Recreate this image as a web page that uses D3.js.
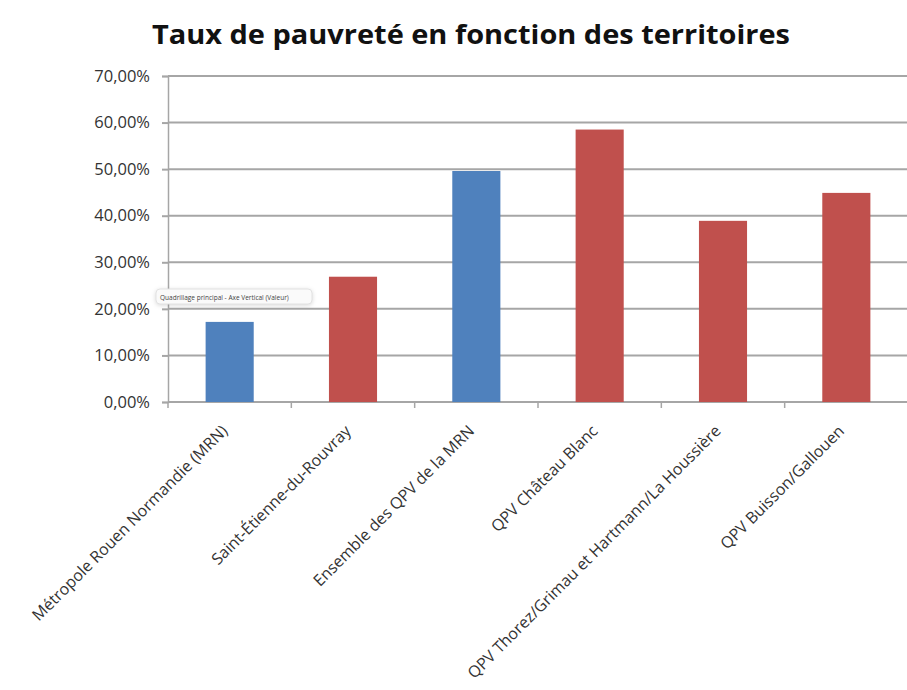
<!DOCTYPE html>
<html><head><meta charset="utf-8">
<script src="https://cdn.jsdelivr.net/npm/d3@7"></script>
<style>body{margin:0;background:#fff;} svg{display:block;}</style>
</head><body>
<svg id="c" width="907" height="690"></svg>
<script>
const categories = ["Métropole Rouen Normandie (MRN)", "Saint-Étienne-du-Rouvray", "Ensemble des QPV de la MRN", "QPV Château Blanc", "QPV Thorez/Grimau et Hartmann/La Houssière", "QPV Buisson/Gallouen"];
const values = [0.172, 0.269, 0.496, 0.585, 0.389, 0.449];
const groups = ["MRN", "QPV", "MRN", "QPV", "QPV", "QPV"];
const yTicks = [0, 0.1, 0.2, 0.3, 0.4, 0.5, 0.6, 0.7];
const colorOf = {MRN: "#4F81BD", QPV: "#C0504D"};

const svg = d3.select("#c");
const x = d3.scaleBand().domain(categories).range([168, 908]).paddingInner(0).paddingOuter(0);
const y = d3.scaleLinear().domain([0, 0.7]).range([402, 76]);
const fmt = v => d3.format(".2f")(v * 100).replace(".", ",") + "%";

// title
svg.append("text").attr("x", 471).attr("y", 44).attr("text-anchor", "middle")
  .attr("font-family", "Open Sans").attr("font-weight", "bold").attr("font-size", 27)
  .attr("textLength", 638).attr("lengthAdjust", "spacingAndGlyphs")
  .attr("fill", "#111").text("Taux de pauvreté en fonction des territoires");

// y axis + gridlines
const yAxis = d3.axisLeft(y).tickValues(yTicks).tickSize(6).tickFormat(fmt);
const gy = svg.append("g").attr("transform", "translate(168,0)").call(yAxis);
gy.select(".domain").attr("stroke", "#a6a6a6").attr("stroke-width", 1.5);
gy.selectAll(".tick line").attr("stroke", "#a6a6a6").attr("stroke-width", 2);
gy.selectAll(".tick text").attr("font-family", "Open Sans").attr("font-size", 16.5)
  .attr("fill", "#333").attr("x", -18);
svg.append("g").selectAll("line").data(yTicks).join("line")
  .attr("x1", 168).attr("x2", 907).attr("y1", d => y(d)).attr("y2", d => y(d))
  .attr("stroke", "#a6a6a6").attr("stroke-width", 2);

// bars
const bw = x.bandwidth() * 0.39;
svg.append("g").selectAll("rect").data(values).join("rect")
  .attr("x", (d, i) => x(categories[i]) + (x.bandwidth() - bw) / 2)
  .attr("y", d => y(d)).attr("width", bw).attr("height", d => y(0) - y(d))
  .attr("fill", (d, i) => colorOf[groups[i]]);

// x axis ticks
const xb = d3.range(categories.length + 1).map(i => 168 + i * x.step());
svg.append("g").selectAll("line").data(xb).join("line")
  .attr("x1", d => d).attr("x2", d => d).attr("y1", y(0)).attr("y2", y(0) + 6)
  .attr("stroke", "#a6a6a6").attr("stroke-width", 1.5);

svg.append("g").selectAll("text").data(categories).join("text")
  .attr("transform", d => `translate(${x(d) + x.bandwidth() / 2 - 5},${y(0) + 26}) rotate(-45)`)
  .attr("text-anchor", "end").attr("dy", "0.35em")
  .attr("font-family", "Open Sans").attr("font-size", 16).attr("fill", "#333")
  .text(d => d);

// tooltip
const tt = svg.append("g").attr("transform", "translate(156,289)");
tt.append("rect").attr("width", 156).attr("height", 15).attr("rx", 4)
  .attr("fill", "#fafafa").attr("stroke", "#e2e2e2").attr("stroke-width", 1)
  .style("filter", "drop-shadow(0 1px 2px rgba(0,0,0,0.15))");
tt.append("text").attr("x", 4).attr("y", 10.5).attr("font-family", "Open Sans")
  .attr("font-size", 6.5).attr("fill", "#444").text("Quadrillage principal - Axe Vertical (Valeur)");
</script>
</body></html>
